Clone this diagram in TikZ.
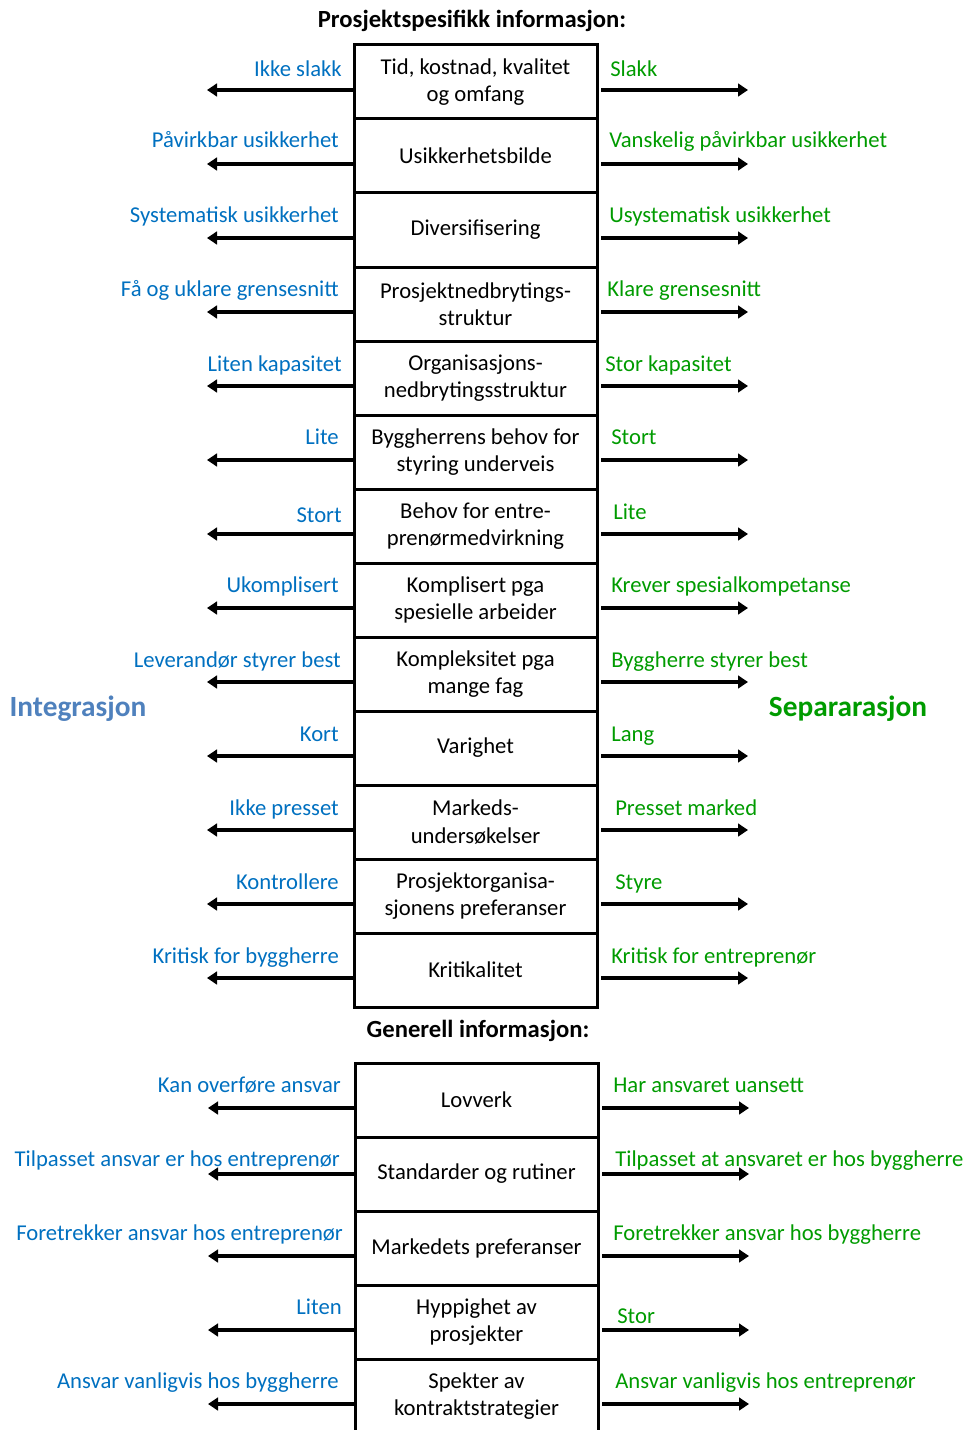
\documentclass[tikz,border=0pt]{standalone}
\usepackage{fontspec}
\setmainfont{Carlito}
\usetikzlibrary{arrows.meta}
\definecolor{lblue}{RGB}{0,112,192}
\definecolor{lgreen}{RGB}{0,155,0}
\definecolor{ibl}{RGB}{79,129,189}
\tikzset{
  box/.style={draw,line width=2.25pt,minimum width=182.25pt,minimum height=55.5pt,
    outer sep=0pt,align=center,font=\fontsize{17}{20.3}\selectfont},
  lt/.style={anchor=base east,text=lblue,inner sep=0pt,font=\fontsize{17}{20.3}\selectfont},
  rt/.style={anchor=base west,text=lgreen,inner sep=0pt,font=\fontsize{17}{20.3}\selectfont},
  arr/.style={line width=3pt,-{Triangle[length=7.5pt,width=9.5pt]}},
  hd/.style={font=\bfseries\fontsize{18.5}{22}\selectfont}
}
\begin{document}
\begin{tikzpicture}[x=0.75pt,y=-0.75pt]
    \useasboundingbox(0,0)rectangle(967,1430);
    \node[hd](t1)at(472,21){Prosjektspesifikk informasjon:};
    \node[hd](t2)at(478,1031){Generell informasjon:};
    \node[font=\bfseries\fontsize{22}{26}\selectfont,text=ibl](int)at(78,709){Integrasjon};
    \node[font=\bfseries\fontsize{22}{26}\selectfont,text=lgreen](sep)at(848,709){Separarasjon};
    % prosjektspesifikk
    \node[box](b1)at(475.5,82){Tid, kostnad, kvalitet\\og omfang};
    \node[box](b2)at(475.5,156){Usikkerhetsbilde};
    \node[box](b3)at(475.5,230){Diversifisering};
    \node[box](b4)at(475.5,304){Prosjektnedbrytings-\\struktur};
    \node[box](b5)at(475.5,378){Organisasjons-\\nedbrytingsstruktur};
    \node[box](b6)at(475.5,452){Byggherrens behov for\\styring underveis};
    \node[box](b7)at(475.5,526){Behov for entre-\\prenørmedvirkning};
    \node[box](b8)at(475.5,600){Komplisert pga\\spesielle arbeider};
    \node[box](b9)at(475.5,674){Kompleksitet pga\\mange fag};
    \node[box](b10)at(475.5,748){Varighet};
    \node[box](b11)at(475.5,822){Markeds-\\undersøkelser};
    \node[box](b12)at(475.5,896){Prosjektorganisa-\\sjonens preferanser};
    \node[box](b13)at(475.5,970){Kritikalitet};
    \node[lt](l1)at(342,77){Ikke slakk};
    \node[lt](l2)at(339,148){Påvirkbar usikkerhet};
    \node[lt](l3)at(339,223){Systematisk usikkerhet};
    \node[lt](l4)at(339,296){Få og uklare grensesnitt};
    \node[lt](l5)at(342,371){Liten kapasitet};
    \node[lt](l6)at(339,444){Lite};
    \node[lt](l7)at(342,522){Stort};
    \node[lt](l8)at(339,592){Ukomplisert};
    \node[lt](l9)at(341,667){Leverandør styrer best};
    \node[lt](l10)at(339,741){Kort};
    \node[lt](l11)at(339,815){Ikke presset};
    \node[lt](l12)at(339,889){Kontrollere};
    \node[lt](l13)at(339,963){Kritisk for byggherre};
    \node[rt](r1)at(610,77){Slakk};
    \node[rt](r2)at(609,148){Vanskelig påvirkbar usikkerhet};
    \node[rt](r3)at(609,223){Usystematisk usikkerhet};
    \node[rt](r4)at(607,296){Klare grensesnitt};
    \node[rt](r5)at(605,371){Stor kapasitet};
    \node[rt](r6)at(611,444){Stort};
    \node[rt](r7)at(613,519){Lite};
    \node[rt](r8)at(611,592){Krever spesialkompetanse};
    \node[rt](r9)at(611,667){Byggherre styrer best};
    \node[rt](r10)at(611,741){Lang};
    \node[rt](r11)at(615,815){Presset marked};
    \node[rt](r12)at(615,889){Styre};
    \node[rt](r13)at(611,963){Kritisk for entreprenør};
    \draw[arr]([yshift=-6pt]b1.west)--++(-147,0);
    \draw[arr]([yshift=-6pt]b2.west)--++(-147,0);
    \draw[arr]([yshift=-6pt]b3.west)--++(-147,0);
    \draw[arr]([yshift=-6pt]b4.west)--++(-147,0);
    \draw[arr]([yshift=-6pt]b5.west)--++(-147,0);
    \draw[arr]([yshift=-6pt]b6.west)--++(-147,0);
    \draw[arr]([yshift=-6pt]b7.west)--++(-147,0);
    \draw[arr]([yshift=-6pt]b8.west)--++(-147,0);
    \draw[arr]([yshift=-6pt]b9.west)--++(-147,0);
    \draw[arr]([yshift=-6pt]b10.west)--++(-147,0);
    \draw[arr]([yshift=-6pt]b11.west)--++(-147,0);
    \draw[arr]([yshift=-6pt]b12.west)--++(-147,0);
    \draw[arr]([yshift=-6pt]b13.west)--++(-147,0);
    \draw[arr]([xshift=3pt,yshift=-6pt]b1.east)--++(147,0);
    \draw[arr]([xshift=3pt,yshift=-6pt]b2.east)--++(147,0);
    \draw[arr]([xshift=3pt,yshift=-6pt]b3.east)--++(147,0);
    \draw[arr]([xshift=3pt,yshift=-6pt]b4.east)--++(147,0);
    \draw[arr]([xshift=3pt,yshift=-6pt]b5.east)--++(147,0);
    \draw[arr]([xshift=3pt,yshift=-6pt]b6.east)--++(147,0);
    \draw[arr]([xshift=3pt,yshift=-6pt]b7.east)--++(147,0);
    \draw[arr]([xshift=3pt,yshift=-6pt]b8.east)--++(147,0);
    \draw[arr]([xshift=3pt,yshift=-6pt]b9.east)--++(147,0);
    \draw[arr]([xshift=3pt,yshift=-6pt]b10.east)--++(147,0);
    \draw[arr]([xshift=3pt,yshift=-6pt]b11.east)--++(147,0);
    \draw[arr]([xshift=3pt,yshift=-6pt]b12.east)--++(147,0);
    \draw[arr]([xshift=3pt,yshift=-6pt]b13.east)--++(147,0);
    % generell
    \node[box](g1)at(476.5,1100){Lovverk};
    \node[box](g2)at(476.5,1174){Standarder og rutiner};
    \node[box](g3)at(476.5,1248){Markedets preferanser};
    \node[box](g4)at(476.5,1322){Hyppighet av\\prosjekter};
    \node[box](g5)at(476.5,1396){Spekter av\\kontraktstrategier};
    \node[lt](gl1)at(341,1092){Kan overføre ansvar};
    \node[lt](gl2)at(340,1166){Tilpasset ansvar er hos entreprenør};
    \node[lt](gl3)at(343,1240){Foretrekker ansvar hos entreprenør};
    \node[lt](gl4)at(342,1314){Liten};
    \node[lt](gl5)at(339,1388){Ansvar vanligvis hos byggherre};
    \node[rt](gr1)at(613,1092){Har ansvaret uansett};
    \node[rt](gr2)at(615,1166){Tilpasset at ansvaret er hos byggherre};
    \node[rt](gr3)at(613,1240){Foretrekker ansvar hos byggherre};
    \node[rt](gr4)at(617,1323){Stor};
    \node[rt](gr5)at(615,1388){Ansvar vanligvis hos entreprenør};
    \draw[arr]([yshift=-6pt]g1.west)--++(-147,0);
    \draw[arr](g2.west)--++(-147,0);
    \draw[arr]([yshift=-6pt]g3.west)--++(-147,0);
    \draw[arr]([yshift=-6pt]g4.west)--++(-147,0);
    \draw[arr]([yshift=-6pt]g5.west)--++(-147,0);
    \draw[arr]([xshift=3pt,yshift=-6pt]g1.east)--++(147,0);
    \draw[arr]([xshift=3pt]g2.east)--++(147,0);
    \draw[arr]([xshift=3pt,yshift=-6pt]g3.east)--++(147,0);
    \draw[arr]([xshift=3pt,yshift=-6pt]g4.east)--++(147,0);
    \draw[arr]([xshift=3pt,yshift=-6pt]g5.east)--++(147,0);
\end{tikzpicture}
\end{document}
